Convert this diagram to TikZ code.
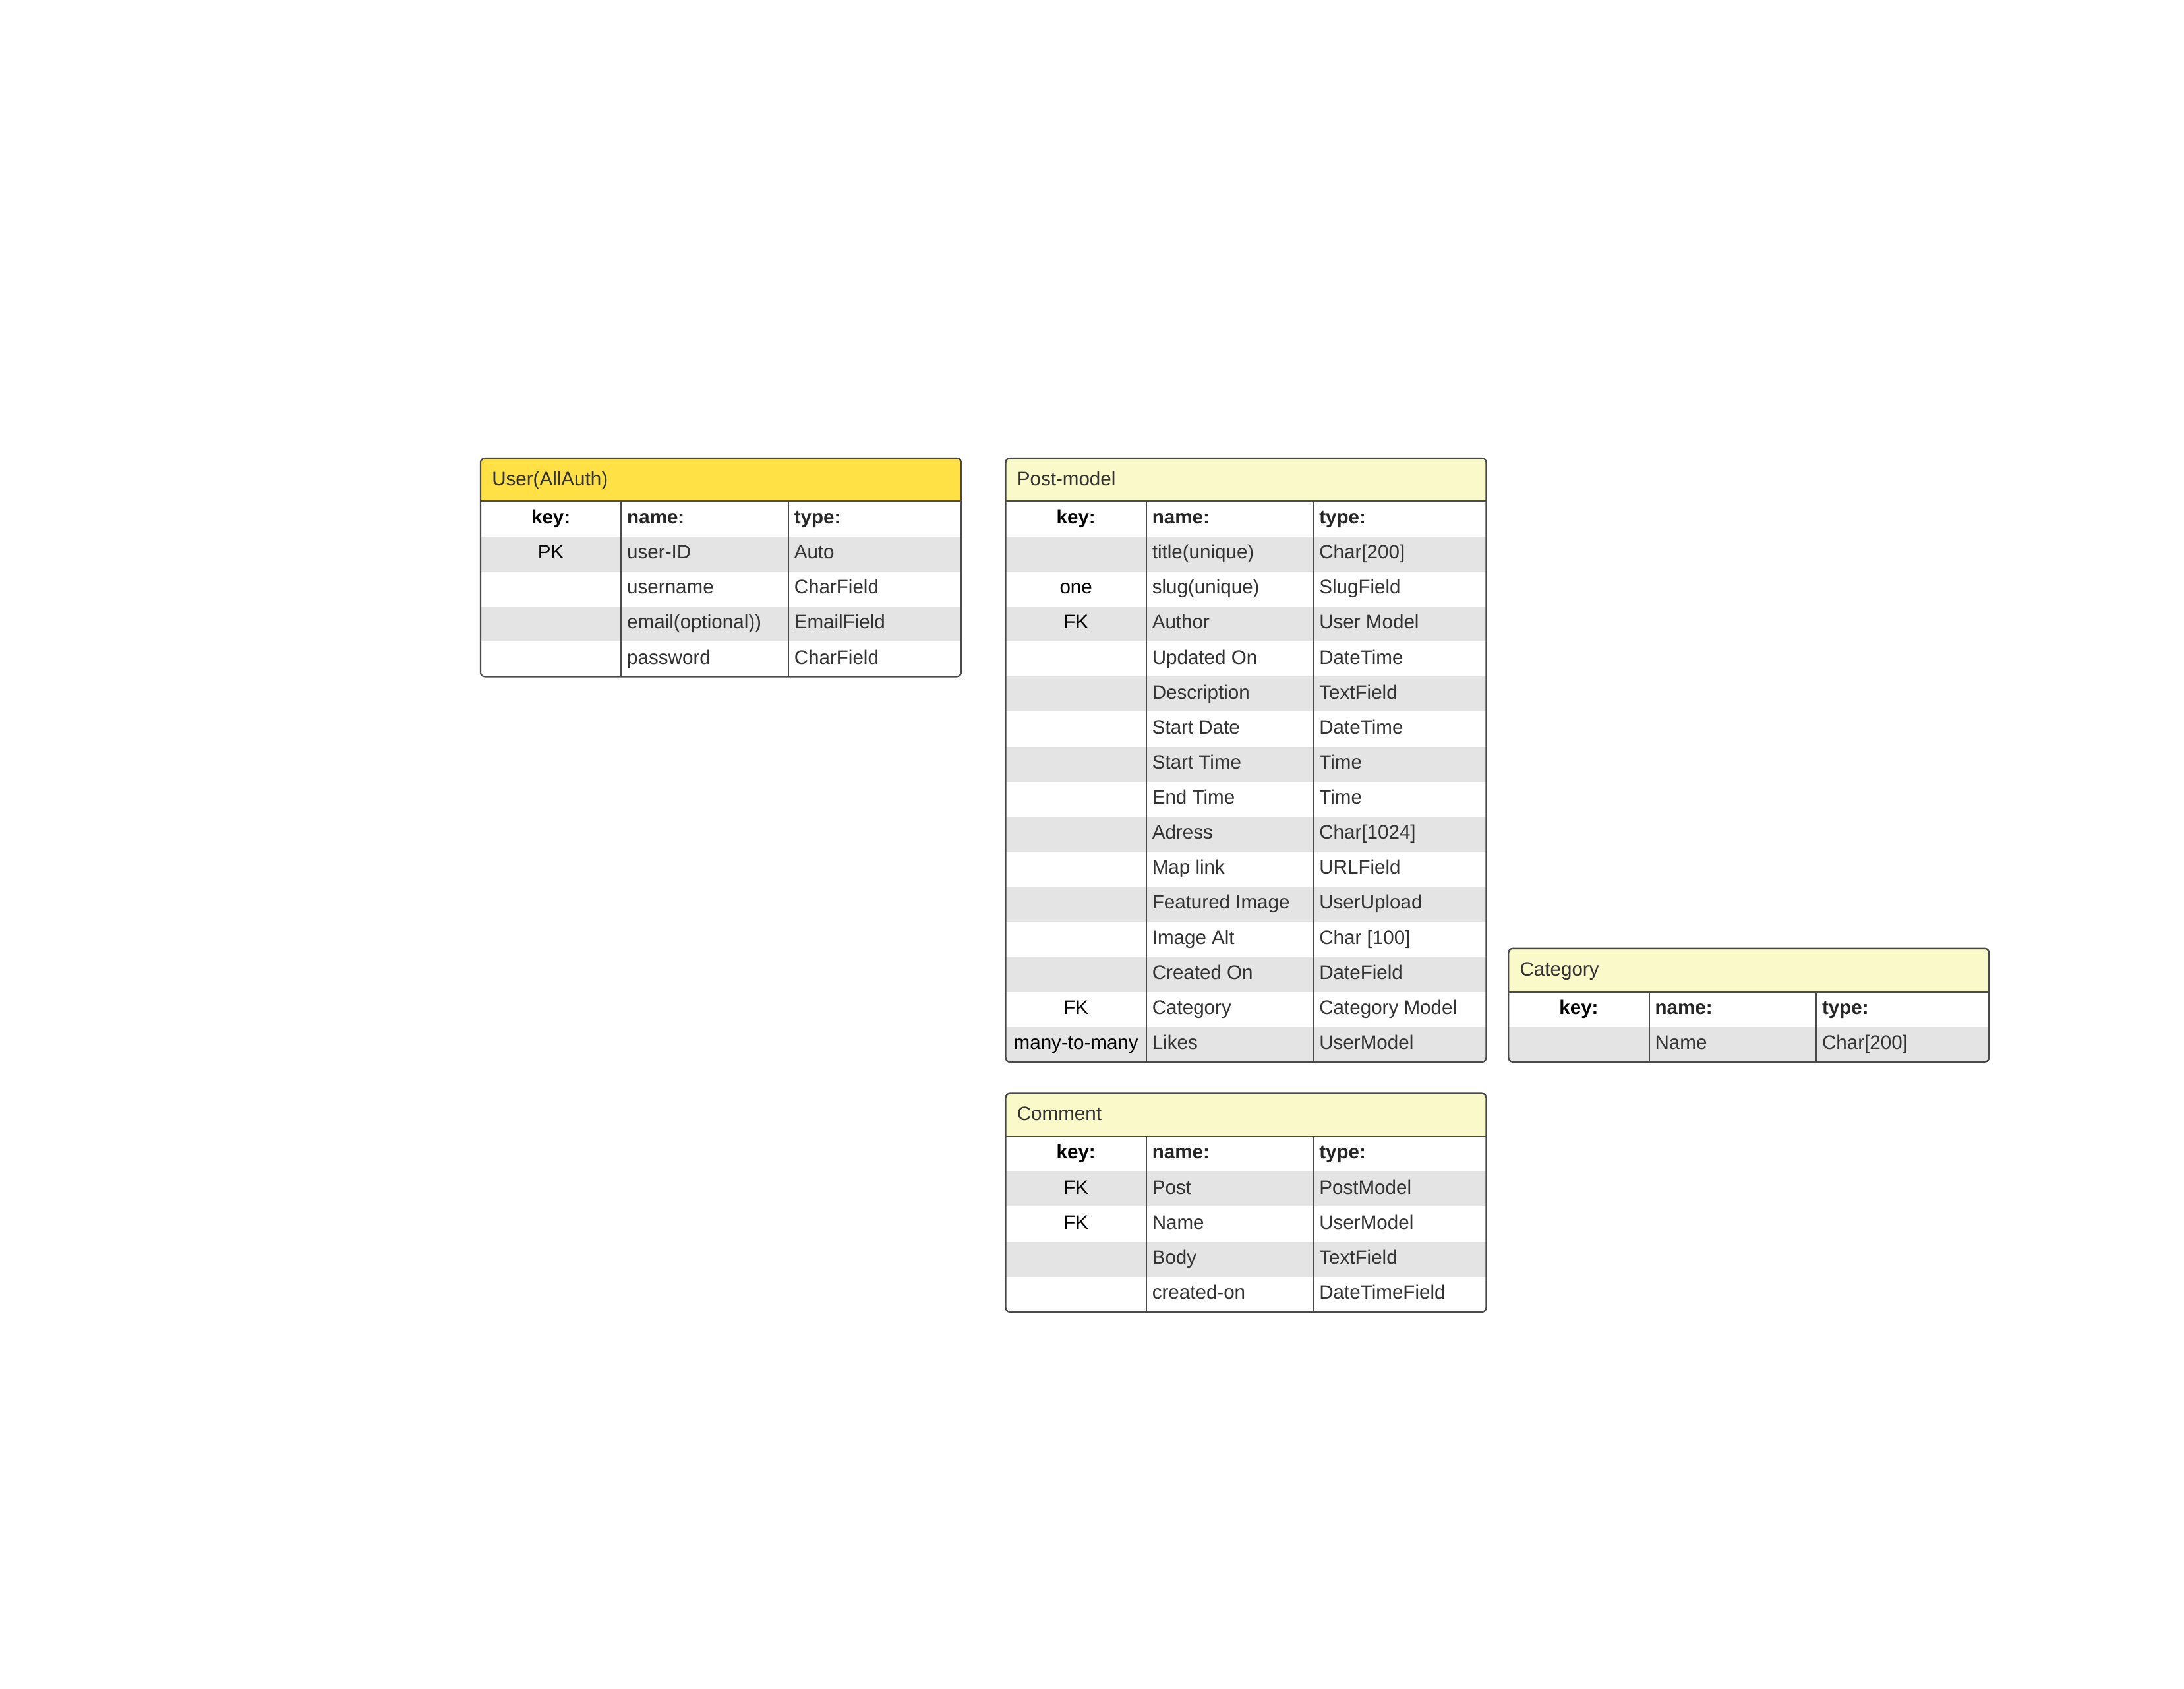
\documentclass[tikz,border=0pt]{standalone}
\usepackage{fontspec}
\setmainfont{Liberation Sans}
\definecolor{hdrY}{HTML}{FFE045}
\definecolor{hdrP}{HTML}{FAF9C9}
\definecolor{rowG}{HTML}{E4E4E4}
\definecolor{bord}{HTML}{4A4A4A}
\definecolor{txt}{HTML}{333333}
\tikzset{
  x=1pt, y=-1pt,
  base/.style={inner sep=0pt, font=\fontsize{14}{16}\selectfont},
  titletext/.style={base, anchor=base west, text=txt},
  hdrkey/.style={base, anchor=base, text=black, font=\fontsize{14}{16}\selectfont\bfseries},
  hdrcell/.style={base, anchor=base west, text=black!85, font=\fontsize{14}{16}\selectfont\bfseries},
  keytext/.style={base, anchor=base, text=black},
  celltext/.style={base, anchor=base west, text=txt},
  frame/.style={draw=bord, line width=1.1pt},
}
\def\rh{25.15}
\newcommand\ertable[6]{% #1 id, #2 shift, #3 header colour, #4 title, #5 number of rows, #6 rows
\begin{scope}[shift={#2}]
\pgfmathsetmacro\tabH{31+\rh*(#5+1)}
\begin{scope}
\clip[rounded corners=3pt] (0,0) rectangle (345,\tabH);
\fill[white] (0,0) rectangle (345,\tabH);
\fill[#3] (0,0) rectangle (345,31);
\foreach [count=\i] \k/\n/\t in {#6} {\ifodd\i \fill[rowG] (0,{31+\rh*\i}) rectangle (345,{31+\rh*(\i+1)});\fi}
\end{scope}
\draw[frame] (0,31) -- (345,31) (101,31) -- (101,\tabH) (221,31) -- (221,\tabH);
\draw[frame, rounded corners=3pt] (0,0) rectangle (345,\tabH);
\node[titletext] (#1-title) at (8,19.5) {#4};
\node[hdrkey] (#1-key) at (50.5,47) {key:};
\node[hdrcell] (#1-name) at (105,47) {name:};
\node[hdrcell] (#1-type) at (225,47) {type:};
\foreach [count=\i] \k/\n/\t in {#6} {
  \node[keytext] (#1-k\i) at (50.5,{47+\rh*\i}) {\k};
  \node[celltext] (#1-n\i) at (105,{47+\rh*\i}) {\n};
  \node[celltext] (#1-t\i) at (225,{47+\rh*\i}) {\t};
}
\end{scope}
}
\begin{document}
\begin{tikzpicture}
\useasboundingbox (0,0) rectangle (1568,1212.1);
\fill[white] (0,0) rectangle (1568,1212.1);
\ertable{user}{(345,329)}{hdrY}{User(AllAuth)}{4}{%
  PK/user-ID/Auto,
  {}/username/CharField,
  {}/email(optional))/EmailField,
  {}/password/CharField}
\ertable{post}{(722,329)}{hdrP}{Post-model}{15}{%
  {}/title(unique)/Char[200],
  one/slug(unique)/SlugField,
  FK/Author/User Model,
  {}/Updated On/DateTime,
  {}/Description/TextField,
  {}/Start Date/DateTime,
  {}/Start Time/Time,
  {}/End Time/Time,
  {}/Adress/Char[1024],
  {}/Map link/URLField,
  {}/Featured Image/UserUpload,
  {}/Image Alt/Char [100],
  {}/Created On/DateField,
  FK/Category/Category Model,
  many-to-many/Likes/UserModel}
\ertable{comment}{(722,785)}{hdrP}{Comment}{4}{%
  FK/Post/PostModel,
  FK/Name/UserModel,
  {}/Body/TextField,
  {}/created-on/DateTimeField}
\ertable{category}{(1083,681)}{hdrP}{Category}{1}{%
  {}/Name/Char[200]}
\end{tikzpicture}
\end{document}
